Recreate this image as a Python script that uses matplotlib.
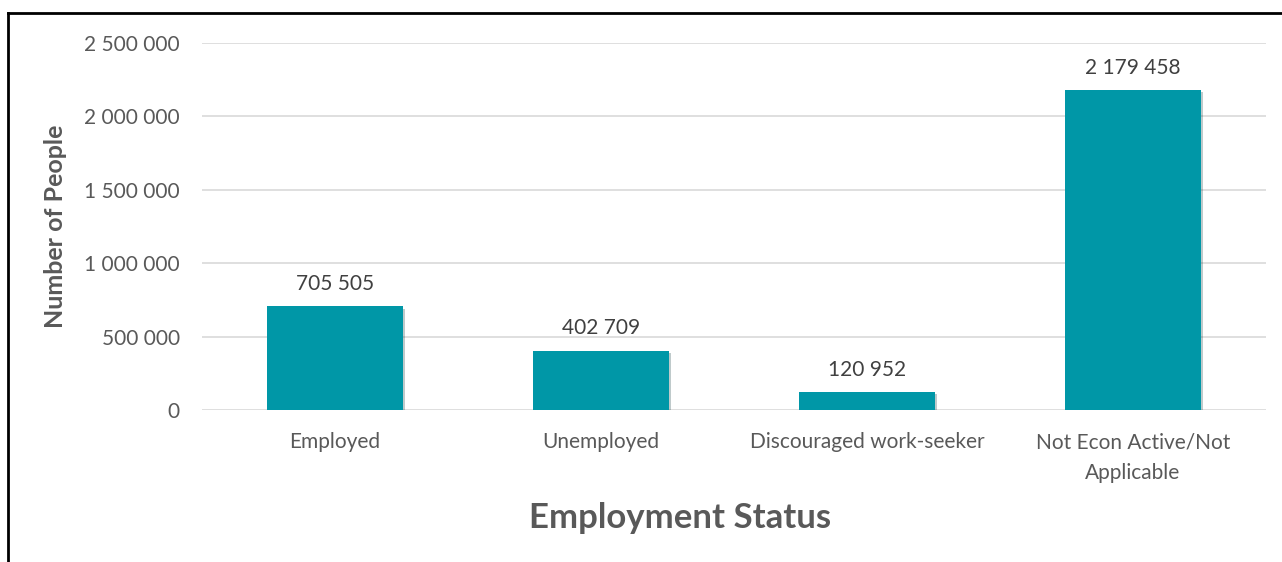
import matplotlib.pyplot as plt
import matplotlib.patheffects as pe
from matplotlib.lines import Line2D
from matplotlib.ticker import FuncFormatter

categories = ['Employed', 'Unemployed', 'Discouraged work-seeker', 'Not Econ Active/Not\nApplicable']
people = [705505, 402709, 120952, 2179458]

plt.rcParams['font.family'] = ['Lato', 'DejaVu Sans']
text_col = '#595959'
bar_col = '#0097A7'

fig = plt.figure(figsize=(12.82, 5.62), dpi=100)
ax = fig.add_axes([202 / 1282, 1 - 410 / 562, 1064 / 1282, 367 / 562])

x = range(len(categories))
bars = ax.bar(x, people, width=0.51, color=bar_col, zorder=3,
              path_effects=[pe.SimplePatchShadow(offset=(1.5, -1.5), alpha=0.25), pe.Normal()])

for b, v in zip(bars, people):
    ax.annotate(f'{v:,}'.replace(',', ' '), (b.get_x() + b.get_width() / 2, v),
                xytext=(0, 9), textcoords='offset points', ha='center', va='bottom',
                fontsize=15, color='#404040')

ax.set_xlim(-0.5, 3.5)
ax.set_ylim(0, 2500000)
ax.set_yticks(range(0, 2500001, 500000))
ax.yaxis.set_major_formatter(FuncFormatter(lambda v, p: f'{int(v):,}'.replace(',', ' ')))
ax.set_xticks(list(x))
ax.set_xticklabels(categories, linespacing=1.65)
ax.grid(axis='y', color='#D9D9D9', linewidth=1.2, zorder=0)
for s in ax.spines.values():
    s.set_visible(False)
ax.tick_params(length=0, labelsize=15, colors=text_col)
ax.tick_params(axis='y', pad=16)
ax.tick_params(axis='x', pad=16)

ax.set_ylabel('Number of People', fontsize=18, fontweight='bold', color=text_col, labelpad=12)
ax.set_xlabel('Employment Status', fontsize=25, fontweight='bold', color=text_col)
ax.xaxis.set_label_coords(0.449, -0.252)

# outer frame (top and left edges visible)
fig.add_artist(Line2D([8 / 1282, 1], [1 - 13 / 562, 1 - 13 / 562], color='black', linewidth=2, transform=fig.transFigure))
fig.add_artist(Line2D([8 / 1282, 8 / 1282], [0, 1 - 13 / 562], color='black', linewidth=2, transform=fig.transFigure))

fig.savefig('out.png', dpi=100)
